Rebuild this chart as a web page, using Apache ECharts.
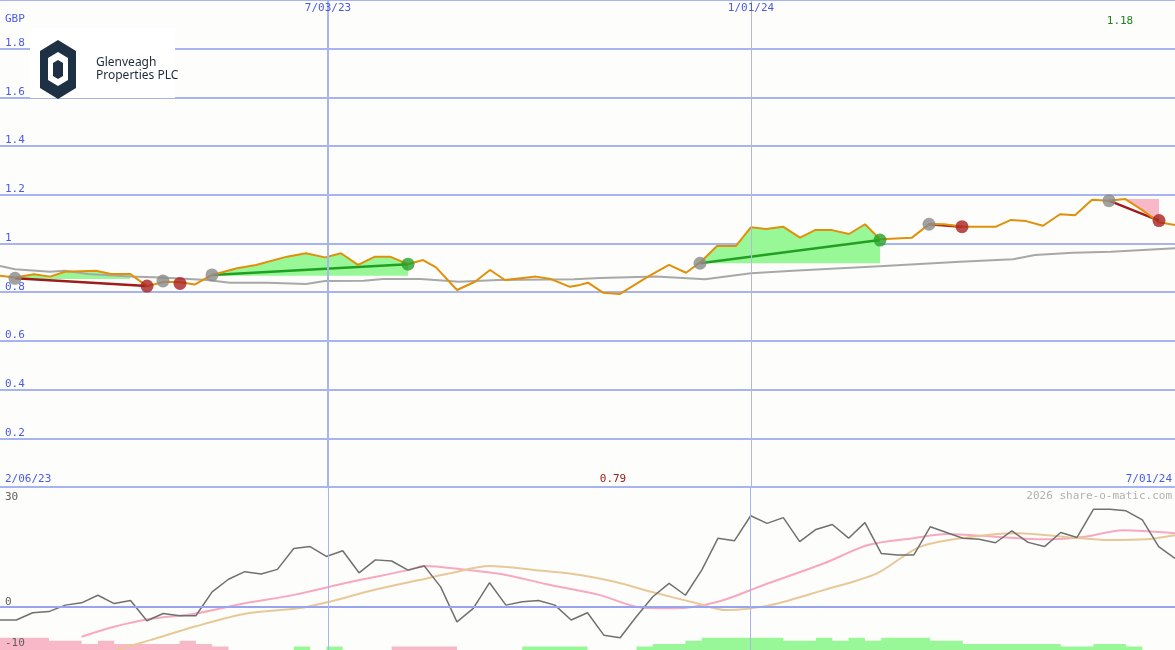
<!DOCTYPE html>
<html><head><meta charset="utf-8">
<script src="https://cdn.jsdelivr.net/npm/echarts@6/dist/echarts.min.js"></script>
<style>html,body{margin:0;padding:0;background:#fdfefb}#c{width:1175px;height:650px}</style>
</head><body><div id="c"></div>
<script>
// top panel: time position t (0..1175) and price in GBP
const priceT=[0,15,34,50,65,96,111,130,147,165,180,195,212,237,256,287,306,325,341,358,375,390,408,423,436,457,475,490,505,536,551,570,580,588,603,620,648,669,686,701,717,736,751,766,783,800,815,832,849,865,880,912,929,944,963,996,1011,1026,1043,1060,1075,1092,1109,1125,1142,1159,1175];
const priceV=[0.868,0.860,0.874,0.864,0.884,0.888,0.875,0.875,0.825,0.843,0.841,0.832,0.871,0.898,0.912,0.946,0.960,0.943,0.960,0.912,0.946,0.946,0.915,0.932,0.902,0.809,0.843,0.891,0.850,0.864,0.854,0.822,0.830,0.839,0.798,0.793,0.864,0.912,0.880,0.925,0.990,0.990,1.067,1.060,1.069,1.024,1.055,1.055,1.039,1.079,1.017,1.024,1.079,1.079,1.069,1.069,1.097,1.092,1.073,1.120,1.116,1.180,1.176,1.183,1.138,1.087,1.076];
const maT=[0,15,50,65,88,130,161,207,230,268,306,325,364,383,421,459,498,574,600,656,705,751,793,884,960,1013,1035,1073,1111,1175];
const maV=[0.908,0.894,0.884,0.888,0.875,0.864,0.860,0.850,0.839,0.839,0.834,0.846,0.847,0.854,0.854,0.843,0.850,0.853,0.858,0.864,0.853,0.878,0.888,0.908,0.925,0.935,0.953,0.962,0.966,0.980];
// trades: [entryT, entryPrice, exitT, exitPrice, win]
const trades=[[15,0.857,147,0.825,false],[212,0.871,408,0.915,true],[700,0.919,880,1.014,true],[929,1.079,962,1.069,false],[1109,1.176,1159,1.094,false]];
const extraRed=[[180,0.836]];
const extraGray=[[163,0.846]];
// fills: [fromT, toT, basePrice, kind]
const fills=[[15,130,0.854,'g'],[212,408,0.868,'g'],[701,880,0.919,'g'],[1109,1159,1.183,'p']];
// bottom panel (weekly index 0..72)
const osc=[-3.4,-3.4,-1.5,-1.2,0.5,1.1,3.1,0.9,1.7,-3.6,-1.7,-2.3,-2.3,4.0,7.3,9.3,8.7,9.9,15.4,15.9,13.3,14.8,9.0,12.4,12.1,9.7,10.8,5.3,-3.9,-0.35,6.4,0.5,1.4,1.7,0.5,-3.4,-1.5,-7.4,-8.1,-2.5,2.7,6.2,3.1,9.7,18.1,17.4,24.0,22.0,23.5,17.2,20.4,21.7,18.1,22.2,14.1,13.7,13.7,21.1,19.6,18.1,17.8,16.9,20.0,17.0,15.9,19.6,18.3,25.7,25.7,25.3,22.9,15.9,12.8];
const pinkMA=[[5,-7.8],[7,-5.2],[9,-3.3],[12,-1.7],[15,1.0],[18,3.2],[21.6,6.7],[25,9.7],[26,10.8],[28.4,9.9],[30.7,8.7],[33.5,6.0],[36.7,3.2],[39.4,-0.2],[41.3,-0.35],[44,1.4],[46.8,5.8],[50.5,11.5],[53.2,16.3],[56,18.1],[58,19.2],[61,18.5],[64,17.8],[66.5,18.5],[68.8,20.2],[72,19.4]];
const tanMA=[[7.1,-11.3],[9.2,-8.7],[11.9,-5.2],[15.1,-1.7],[18.3,-0.35],[20.2,1.4],[22.9,4.5],[25.7,7.1],[27.5,8.8],[30,10.8],[33,9.6],[34.9,8.8],[37.6,6.7],[39.9,4.0],[42.7,1.0],[44.5,-0.8],[47.2,0.5],[50.5,4.5],[53.7,8.8],[56.4,15.9],[59.6,18.5],[62.4,19.4],[65.6,18.3],[67.9,17.6],[70.2,17.8],[72,18.9]];
const B=-11.3,L1=-10.4,L2=-9.7,L3=-8.9,L4=-8.1;
const pinkBars=[L4,L4,L4,L3,L3,L2,L3,L2,L2,L2,L2,L3,L2,L1,B,B,B,B,B,B,B,B,B,B,L1,L1,L1,L1,B,B,B,B,B,B,B,B,B,B,B,B,B,B,B,B,B,B,B,B,B,B,B,B,B,B,B,B,B,B,B,B,B,B,B,B,B,B,B,B,B,B,B,B,B];
const greenBars=[B,B,B,B,B,B,B,B,B,B,B,B,B,B,B,B,B,B,L1,B,L1,B,B,B,B,B,B,B,B,B,B,B,L1,L1,L1,L1,B,B,B,L1,L2,L2,L3,L4,L4,L4,L4,L4,L3,L3,L4,L3,L4,L3,L4,L4,L4,L3,L3,L2,L2,L2,L2,L2,L2,L1,L1,L2,L2,L1,B,B,B];
const yTicks=[0.2,0.4,0.6,0.8,1,1.2,1.4,1.6,1.8];
const oscTicks=['30','0','-10'];

const mono='DejaVu Sans Mono';
const blue='#4a5ae8';
const series=[];
fills.forEach(f=>{
  const d=[];priceT.forEach((t,i)=>{if(t>=f[0]&&t<=f[1])d.push([t,priceV[i]]);});
  series.push({type:'line',xAxisIndex:0,yAxisIndex:0,data:d,symbol:'none',lineStyle:{width:0},
    areaStyle:{origin:f[2],color:f[3]=='g'?'#98f898':'#f8b8c8',opacity:1},z:1});
});
series.push({type:'line',xAxisIndex:0,yAxisIndex:0,data:maT.map((t,i)=>[t,maV[i]]),symbol:'none',lineStyle:{color:'#a8a8a8',width:2},z:2,
  markLine:{silent:true,symbol:'none',label:{show:false},data:[{xAxis:328,lineStyle:{color:'#a8b4f0',width:2,type:'solid'}},{xAxis:751,lineStyle:{color:'#b4b8d8',width:1,type:'solid'}}]}});
series.push({type:'line',xAxisIndex:0,yAxisIndex:0,data:priceT.map((t,i)=>[t,priceV[i]]),symbol:'none',lineStyle:{color:'#e0900a',width:2},z:4});
trades.forEach(tr=>{
  series.push({type:'line',xAxisIndex:0,yAxisIndex:0,data:[[tr[0],tr[1]],[tr[2],tr[3]]],symbol:'none',lineStyle:{color:tr[4]?'#22a022':'#a01c1c',width:2.5},z:3});
});
series.push({type:'scatter',xAxisIndex:0,yAxisIndex:0,symbolSize:13,itemStyle:{color:'#8a8a8a'},z:5,data:trades.map(t=>[t[0],t[1]]).concat(extraGray)});
series.push({type:'scatter',xAxisIndex:0,yAxisIndex:0,symbolSize:13,itemStyle:{color:'#a82020'},z:5,data:trades.filter(t=>!t[4]).map(t=>[t[2],t[3]]).concat(extraRed)});
series.push({type:'scatter',xAxisIndex:0,yAxisIndex:0,symbolSize:13,itemStyle:{color:'#28a028'},z:5,data:trades.filter(t=>t[4]).map(t=>[t[2],t[3]])});
// bottom
series.push({type:'line',xAxisIndex:1,yAxisIndex:1,step:'end',data:pinkBars.map((v,i)=>[i,v]),symbol:'none',lineStyle:{width:0},areaStyle:{origin:'start',color:'#f8b8c8',opacity:1},z:1});
series.push({type:'line',xAxisIndex:1,yAxisIndex:1,step:'end',data:greenBars.map((v,i)=>[i,v]),symbol:'none',lineStyle:{width:0},areaStyle:{origin:'start',color:'#98f898',opacity:1},z:1});
series.push({type:'line',xAxisIndex:1,yAxisIndex:1,data:pinkMA,symbol:'none',smooth:0.3,lineStyle:{color:'#f8a8c0',width:2},z:2,
  markLine:{silent:true,symbol:'none',label:{show:false},data:[{yAxis:0,lineStyle:{color:'#98a4f0',width:2,type:'solid'}},{xAxis:20.1,lineStyle:{color:'#a8b4f0',width:1,type:'solid'}},{xAxis:46.0,lineStyle:{color:'#a8b4f0',width:1,type:'solid'}}]}});
series.push({type:'line',xAxisIndex:1,yAxisIndex:1,data:tanMA,symbol:'none',smooth:0.3,lineStyle:{color:'#e8c898',width:2},z:2});
series.push({type:'line',xAxisIndex:1,yAxisIndex:1,data:osc.map((v,i)=>[i,v]),symbol:'none',lineStyle:{color:'#707070',width:1.5},z:3});

const txt=(x,y,s,c,align)=>({type:'text',x:x,y:y,z:20,style:{text:s,fill:c,font:'11px '+mono,textAlign:align||'left',textVerticalAlign:'middle'}});
const chart=echarts.init(document.getElementById('c'));
chart.setOption({
  backgroundColor:'#fdfefb',animation:false,
  grid:[{left:0,right:0,top:0,height:487,containLabel:false,outerBoundsMode:'none'},{left:0,right:0,top:488,height:162,containLabel:false,outerBoundsMode:'none'}],
  xAxis:[{type:'value',gridIndex:0,min:0,max:1175,show:false},{type:'value',gridIndex:1,min:0,max:72,show:false}],
  yAxis:[{type:'value',gridIndex:0,min:0,max:2,interval:0.2,axisLine:{show:false},axisTick:{show:false},
      splitLine:{lineStyle:{color:'#a8b4f0',width:2}},
      axisLabel:{inside:true,color:blue,fontFamily:mono,fontSize:11,verticalAlign:'bottom',margin:5,
        formatter:v=>yTicks.some(t=>Math.abs(t-v)<1e-6)?String(Math.round(v*10)/10):''}},
    {type:'value',gridIndex:1,min:-11.3,max:31.3,show:false}],
  graphic:[
    {type:'rect',shape:{x:30,y:28,width:145,height:70},style:{fill:'#ffffff'},z:10},
    {type:'polygon',shape:{points:[[58,40],[76,51],[76,88],[58,99],[40,88],[40,51]]},style:{fill:'#1e3044'},z:11},
    {type:'polygon',shape:{points:[[58,52],[68,58],[68,80],[58,86],[48,80],[48,58]]},style:{fill:'#ffffff'},z:12},
    {type:'polygon',shape:{points:[[58,60],[63,63],[63,76],[58,79],[53,76],[53,63]]},style:{fill:'#1e3044'},z:13},
    {type:'text',x:96,y:63,z:14,style:{text:'Glenveagh',fill:'#1e2a38',font:'12px "Noto Sans"',textVerticalAlign:'middle'}},
    {type:'text',x:96,y:76,z:14,style:{text:'Properties PLC',fill:'#1e2a38',font:'12px "Noto Sans"',textVerticalAlign:'middle'}},
    txt(5,19,'GBP',blue),txt(328,8,'7/03/23',blue,'center'),txt(751,8,'1/01/24',blue,'center'),
    txt(1120,21,'1.18','#208020','center'),txt(5,479,'2/06/23',blue),txt(613,479,'0.79','#a01c1c','center'),
    txt(1172,479,'7/01/24',blue,'right'),txt(1172,496,'2026 share-o-matic.com','#b0b0b0','right'),
    txt(5,497,oscTicks[0],'#606060'),txt(5,602,oscTicks[1],'#606060'),txt(5,643,oscTicks[2],'#606060')
  ],
  series:series
});
</script></body></html>
